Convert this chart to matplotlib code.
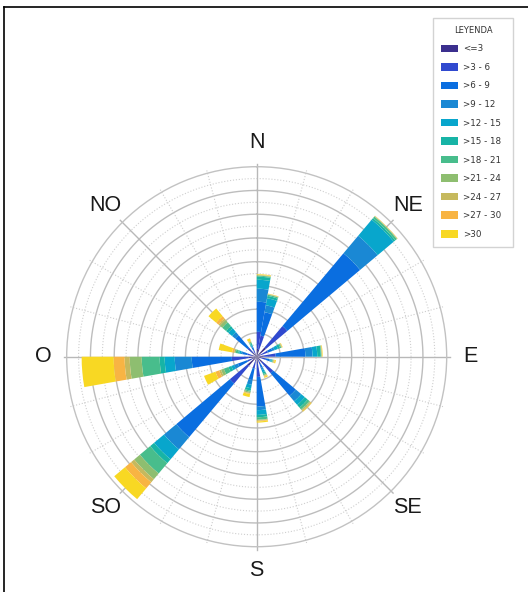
import numpy as np
import matplotlib
matplotlib.use("Agg")
import matplotlib.pyplot as plt
from matplotlib.lines import Line2D

# speed classes (legend) and their colours
speed_labels = ["<=3", ">3 - 6", ">6 - 9", ">9 - 12", ">12 - 15", ">15 - 18",
                ">18 - 21", ">21 - 24", ">24 - 27", ">27 - 30", ">30"]
speed_colors = ["#3b2f8e", "#3049cf", "#0a6ee0", "#1a88d4", "#08a6cc", "#17b4a6",
                "#48bd8c", "#8ebe70", "#c6b95d", "#f8b443", "#f8d823"]

# start of each 10 degree sector (compass degrees, clockwise from N)
dir_start = [0, 10, 40, 60, 80, 100, 130, 150, 170, 190, 220, 240, 260, 280, 310, 330]

# cumulative frequency at the end of each speed class, one row per sector
cum_freq = [
    [0.67, 2.10, 4.63, 5.73, 6.48, 6.74, 6.82, 6.86, 6.88, 6.90, 6.95],
    [0.60, 1.80, 3.80, 4.40, 5.00, 5.20, 5.30, 5.33, 5.36, 5.38, 5.40],
    [1.01, 3.37, 11.37, 13.30, 15.07, 15.24, 15.41, 15.45, 15.47, 15.49, 15.50],
    [0.40, 1.00, 1.40, 1.60, 1.90, 2.10, 2.20, 2.25, 2.28, 2.30, 2.33],
    [0.60, 1.60, 4.10, 4.70, 5.10, 5.40, 5.45, 5.48, 5.50, 5.52, 5.56],
    [0.40, 0.80, 1.10, 1.20, 1.30, 1.35, 1.40, 1.45, 1.50, 1.55, 1.65],
    [0.60, 1.80, 4.30, 4.90, 5.30, 5.60, 5.80, 5.90, 5.95, 6.00, 6.05],
    [0.30, 0.70, 1.00, 1.20, 1.40, 1.55, 1.65, 1.70, 1.75, 1.80, 1.90],
    [0.60, 1.70, 4.20, 4.50, 4.90, 5.10, 5.30, 5.35, 5.40, 5.45, 5.55],
    [0.40, 1.00, 2.00, 2.40, 2.70, 2.90, 3.00, 3.10, 3.15, 3.20, 3.45],
    [1.00, 2.95, 8.84, 10.19, 11.28, 11.71, 12.84, 13.47, 13.81, 14.48, 15.66],
    [0.42, 0.84, 1.68, 2.02, 2.27, 2.53, 2.95, 3.20, 3.37, 3.70, 4.72],
    [0.67, 2.10, 5.47, 6.90, 7.75, 8.17, 9.68, 10.69, 11.12, 12.04, 14.74],
    [0.40, 0.80, 1.20, 1.35, 1.50, 1.60, 1.80, 1.90, 1.95, 2.10, 3.25],
    [0.42, 1.00, 2.36, 2.70, 3.12, 3.37, 3.79, 4.04, 4.21, 4.46, 5.30],
    [0.30, 0.60, 0.85, 0.95, 1.05, 1.15, 1.25, 1.35, 1.40, 1.45, 1.65],
]

compass_labels = ["N", "NE", "E", "SE", "S", "SO", "O", "NO"]

R_MAX = 16
W, H = 528, 592

fig = plt.figure(figsize=(W / 100, H / 100), dpi=100)
ax = fig.add_axes([0.1263, 0.0765, 0.7197, 0.6419], projection="polar")
ax.set_theta_zero_location("N")
ax.set_theta_direction(-1)
ax.set_ylim(0, R_MAX)
ax.set_xticks([])
ax.set_yticks([])
ax.grid(False)
ax.spines["polar"].set_color("#c2c2c2")
ax.spines["polar"].set_linewidth(1.0)

# rings: solid every 2, dotted in between
circ = np.linspace(0, 2 * np.pi, 400)
for r in range(1, R_MAX):
    if r % 2 == 0:
        ax.plot(circ, np.full_like(circ, r), color="#bdbdbd", lw=1.0, zorder=1)
    else:
        ax.plot(circ, np.full_like(circ, r), color="#cfcfcf", lw=0.8, ls=":", zorder=1)

# spokes: solid every 45 degrees, dotted every 15
for deg in range(0, 360, 15):
    t = np.radians(deg)
    if deg % 45 == 0:
        ax.plot([t, t], [0, R_MAX * 1.015], color="#b8b8b8", lw=1.0, zorder=1, clip_on=False)
    else:
        ax.plot([t, t], [4, R_MAX * 1.015], color="#cdcdcd", lw=0.8, ls=":", zorder=1, clip_on=False)

# stacked sectors
theta = np.radians(dir_start)
cum = np.array(cum_freq)
seg = np.diff(np.hstack([np.zeros((len(dir_start), 1)), cum]), axis=1)
bottom = np.zeros(len(dir_start))
handles = []
for k, (lab, col) in enumerate(zip(speed_labels, speed_colors)):
    b = ax.bar(theta, seg[:, k], width=np.radians(10), bottom=bottom, align="edge",
               color=col, edgecolor="none", linewidth=0, zorder=3, label=lab)
    handles.append(b)
    bottom = bottom + seg[:, k]

# compass labels
for i, lab in enumerate(compass_labels):
    ax.text(np.radians(45 * i), 18.0, lab, ha="center", va="center",
            fontsize=15.5, family="Liberation Sans", color="#1a1a1a", clip_on=False)

# legend box: x 433..513 px, y 18..248 px
leg = fig.legend(handles=handles, labels=speed_labels, title="LEYENDA",
                 loc="upper left", mode="expand",
                 bbox_to_anchor=(433 / W, 1 - 248 / H, 80 / W, 230 / H),
                 fontsize=6.3, title_fontsize=6.0, frameon=True, fancybox=False,
                 edgecolor="#c8c8c8", handlelength=2.0, handleheight=0.95,
                 labelspacing=1.09, handletextpad=0.55, borderpad=0.9,
                 borderaxespad=0)
leg.get_frame().set_linewidth(1.0)
for txt in leg.get_texts():
    txt.set_color("#333333")
leg.get_title().set_color("#333333")

# partial frame lines seen at top and left edges
fig.add_artist(Line2D([4 / W, 1], [1 - 7 / H, 1 - 7 / H], color="black", lw=1.2,
                      transform=fig.transFigure))
fig.add_artist(Line2D([4 / W, 4 / W], [0, 1 - 7 / H], color="black", lw=1.2,
                      transform=fig.transFigure))

fig.savefig("out.png", dpi=100, facecolor="white")
